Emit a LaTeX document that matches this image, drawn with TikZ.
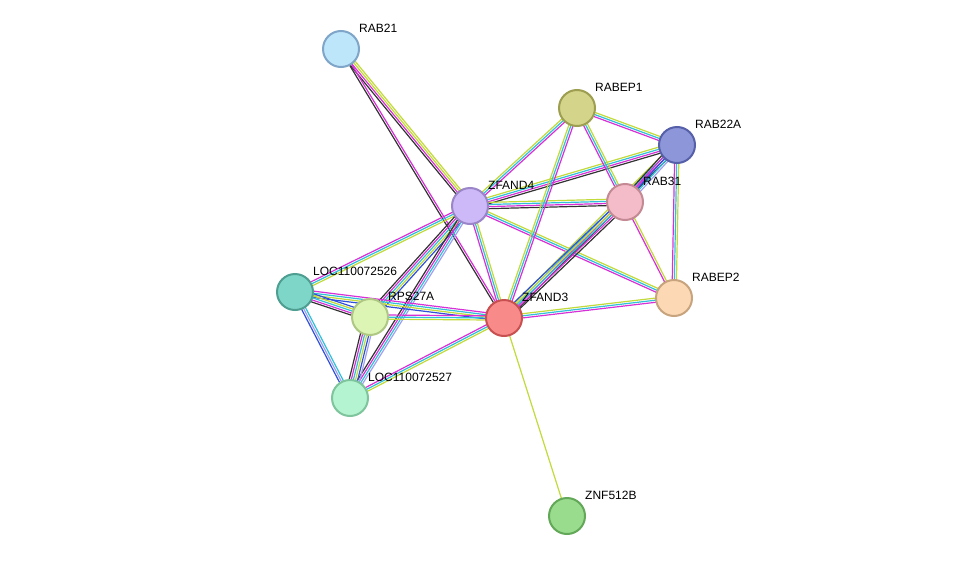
\documentclass[tikz,border=0pt]{standalone}
\usepackage{fontspec}
\setmainfont{Liberation Sans}
\usetikzlibrary{calc}
\definecolor{ctm}{HTML}{C2DA3A}
\definecolor{cco}{HTML}{333333}
\definecolor{cex}{HTML}{D630D6}
\definecolor{cdb}{HTML}{30C0D8}
\definecolor{ccc}{HTML}{3050D8}
\definecolor{cho}{HTML}{A0A0F0}
\newcommand\stredge[4]{%
  \foreach \c [count=\i] in {#4} {%
    \pgfmathsetmacro\off{(\i-(#3+1)/2)*2.1}%
    \draw[\c,line width=1.2pt] ($(#1)!\off pt!90:(#2)$) -- ($(#2)!\off pt!-90:(#1)$);
  }}
\tikzset{prot/.style={circle,minimum size=36pt,line width=2pt,inner sep=0pt},
 lab/.style={anchor=south west,font=\fontsize{12}{13}\selectfont,inner sep=0pt}}
\begin{document}
\begin{tikzpicture}[x=1pt,y=-1pt]
\useasboundingbox[fill=white] (0,0) rectangle (976,562);
\coordinate (RAB21) at (341,49);
\coordinate (RABEP1) at (577,108);
\coordinate (RAB22A) at (677,145);
\coordinate (ZFAND4) at (470,206);
\coordinate (RAB31) at (625,202);
\coordinate (L526) at (295,292);
\coordinate (RPS27A) at (370,317);
\coordinate (ZFAND3) at (504,318);
\coordinate (RABEP2) at (674,298);
\coordinate (L527) at (350,398);
\coordinate (ZNF) at (567,516);
\stredge{RAB21}{ZFAND4}{4}{cco,cex,ctm,ctm}
\stredge{RAB21}{ZFAND3}{2}{cco,cex}
\stredge{ZFAND4}{RABEP1}{3}{cex,cdb,ctm}
\stredge{ZFAND4}{RAB22A}{4}{cco,cex,cdb,ctm}
\stredge{ZFAND4}{RAB31}{4}{cco,cex,cdb,ctm}
\stredge{ZFAND4}{RABEP2}{3}{cex,cdb,ctm}
\stredge{ZFAND4}{ZFAND3}{3}{cex,cdb,ctm}
\stredge{ZFAND4}{L526}{3}{cex,cdb,ctm}
\stredge{ZFAND4}{RPS27A}{5}{cco,cex,cdb,ctm,ccc}
\stredge{ZFAND4}{L527}{4}{cco,cex,cdb,cho}
\stredge{ZFAND3}{RABEP1}{3}{cex,cdb,ctm}
\stredge{ZFAND3}{RAB22A}{4}{cco,cex,cdb,ctm}
\stredge{ZFAND3}{RAB31}{5}{cco,cex,cdb,ctm,ccc}
\stredge{ZFAND3}{RABEP2}{3}{cex,cdb,ctm}
\stredge{ZFAND3}{ZNF}{1}{ctm}
\stredge{ZFAND3}{L526}{4}{cex,cdb,ctm,ccc}
\stredge{ZFAND3}{RPS27A}{3}{cex,cdb,ctm}
\stredge{ZFAND3}{L527}{3}{cex,cdb,ctm}
\stredge{RABEP1}{RAB22A}{3}{cex,cdb,ctm}
\stredge{RABEP1}{RAB31}{3}{cex,cdb,ctm}
\stredge{RAB22A}{RAB31}{5}{cco,cex,ccc,cdb,cho}
\stredge{RAB22A}{RABEP2}{3}{cex,cdb,ctm}
\stredge{RAB31}{RABEP2}{2}{cex,ctm}
\stredge{L526}{RPS27A}{5}{cco,cex,cdb,ctm,ccc}
\stredge{L526}{L527}{3}{ccc,cho,cdb}
\stredge{RPS27A}{L527}{6}{cco,cex,cdb,ctm,ccc,cho}
\node[prot,fill={rgb,255:red,190;green,230;blue,250},draw={rgb,255:red,127;green,166;blue,200}] (nRAB21) at (RAB21) {};
\node[prot,fill={rgb,255:red,212;green,212;blue,138},draw={rgb,255:red,158;green,158;blue,80}] (nRABEP1) at (RABEP1) {};
\node[prot,fill={rgb,255:red,142;green,150;blue,218},draw={rgb,255:red,85;green,96;blue,168}] (nRAB22A) at (RAB22A) {};
\node[prot,fill={rgb,255:red,205;green,184;blue,248},draw={rgb,255:red,154;green,133;blue,200}] (nZFAND4) at (ZFAND4) {};
\node[prot,fill={rgb,255:red,244;green,188;blue,200},draw={rgb,255:red,196;green,138;blue,148}] (nRAB31) at (RAB31) {};
\node[prot,fill={rgb,255:red,126;green,214;blue,200},draw={rgb,255:red,78;green,158;blue,146}] (nL526) at (L526) {};
\node[prot,fill={rgb,255:red,221;green,245;blue,180},draw={rgb,255:red,174;green,200;blue,132}] (nRPS27A) at (RPS27A) {};
\node[prot,fill={rgb,255:red,248;green,138;blue,138},draw={rgb,255:red,200;green,80;blue,80}] (nZFAND3) at (ZFAND3) {};
\node[prot,fill={rgb,255:red,252;green,216;blue,180},draw={rgb,255:red,200;green,164;blue,126}] (nRABEP2) at (RABEP2) {};
\node[prot,fill={rgb,255:red,180;green,244;blue,208},draw={rgb,255:red,126;green,196;blue,156}] (nL527) at (L527) {};
\node[prot,fill={rgb,255:red,154;green,220;blue,142},draw={rgb,255:red,98;green,168;blue,88}] (nZNF) at (ZNF) {};
\node[lab] (tRAB21) at (359,33) {RAB21};
\node[lab] (tRABEP1) at (595,92) {RABEP1};
\node[lab] (tRAB22A) at (695,129) {RAB22A};
\node[lab] (tZFAND4) at (488,190) {ZFAND4};
\node[lab] (tRAB31) at (643,186) {RAB31};
\node[lab] (tL526) at (313,276) {LOC110072526};
\node[lab] (tRPS27A) at (388,301) {RPS27A};
\node[lab] (tZFAND3) at (522,302) {ZFAND3};
\node[lab] (tRABEP2) at (692,282) {RABEP2};
\node[lab] (tL527) at (368,382) {LOC110072527};
\node[lab] (tZNF) at (585,500) {ZNF512B};
\end{tikzpicture}
\end{document}
